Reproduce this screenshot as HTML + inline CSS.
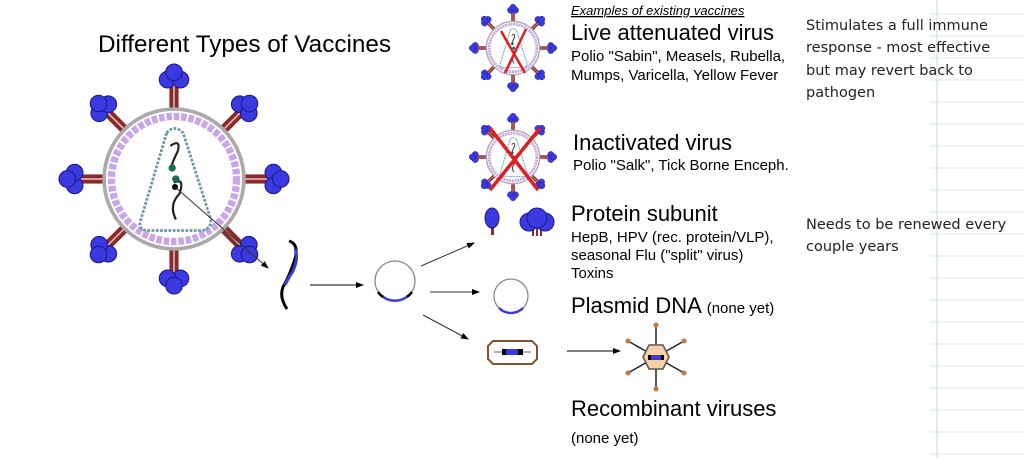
<!DOCTYPE html>
<html><head><style>
body{margin:0;background:#fff;}
svg text{font-family:"Liberation Sans",Arial,sans-serif;}
</style></head><body>
<svg width="1024" height="458" viewBox="0 0 1024 458" xmlns="http://www.w3.org/2000/svg">
<defs>
<marker id="ah" markerWidth="8" markerHeight="8" refX="7" refY="4" orient="auto" markerUnits="userSpaceOnUse"><path d="M0,1 L8,4 L0,7 z" fill="#000"/></marker>
<g id="spike">
<rect x="-2.5" y="-52" width="5" height="15" fill="#8b2a2a"/><line x1="0" y1="-52" x2="0" y2="-37" stroke="#e8c8c8" stroke-width="0.8"/>
<circle cx="-3.5" cy="-54" r="4.5" fill="#3a3ae0" stroke="#1a1a90" stroke-width="0.6"/><circle cx="3.5" cy="-54" r="4.5" fill="#3a3ae0" stroke="#1a1a90" stroke-width="0.6"/><circle cx="0" cy="-58" r="4.5" fill="#3a3ae0" stroke="#1a1a90" stroke-width="0.6"/>
</g>
<g id="virus">
<use href="#spike"/><use href="#spike" transform="rotate(45)"/><use href="#spike" transform="rotate(90)"/><use href="#spike" transform="rotate(135)"/><use href="#spike" transform="rotate(180)"/><use href="#spike" transform="rotate(225)"/><use href="#spike" transform="rotate(270)"/><use href="#spike" transform="rotate(315)"/>
<circle r="38" fill="#fff" stroke="#aaa" stroke-width="2"/>
<circle r="34" fill="none" stroke="#c9a6e8" stroke-width="4" stroke-dasharray="3 1"/>
<path d="M-4,-25 Q0,-30 5,-25 L20,22 Q20,28 14,28 L-14,28 Q-20,28 -18,22 Z" fill="none" stroke="#6a9aa8" stroke-width="1.5" stroke-dasharray="1.5 0.8"/>
<path d="M-2,-18 q6,-4 4,3 q-3,6 -4,10" fill="none" stroke="#222" stroke-width="1.2"/>
<path d="M0,2 q6,-3 3,6 q-6,6 -2,14" fill="none" stroke="#222" stroke-width="1.2"/>
<circle cx="-1" cy="-6" r="2" fill="#1a6a5a"/><circle cx="1" cy="0" r="2" fill="#1a6a5a"/>
</g>
</defs>

<g stroke="#d6e6f2" stroke-width="1">
<line x1="930" y1="14" x2="1024" y2="14"/><line x1="930" y1="36" x2="1024" y2="36"/><line x1="930" y1="58" x2="1024" y2="58"/><line x1="930" y1="80" x2="1024" y2="80"/><line x1="930" y1="102" x2="1024" y2="102"/><line x1="930" y1="124" x2="1024" y2="124"/><line x1="930" y1="146" x2="1024" y2="146"/><line x1="930" y1="168" x2="1024" y2="168"/><line x1="930" y1="190" x2="1024" y2="190"/><line x1="930" y1="212" x2="1024" y2="212"/><line x1="930" y1="234" x2="1024" y2="234"/><line x1="930" y1="256" x2="1024" y2="256"/><line x1="930" y1="278" x2="1024" y2="278"/><line x1="930" y1="300" x2="1024" y2="300"/><line x1="930" y1="322" x2="1024" y2="322"/><line x1="930" y1="344" x2="1024" y2="344"/><line x1="930" y1="366" x2="1024" y2="366"/><line x1="930" y1="388" x2="1024" y2="388"/><line x1="930" y1="410" x2="1024" y2="410"/><line x1="930" y1="432" x2="1024" y2="432"/><line x1="930" y1="454" x2="1024" y2="454"/>
</g>
<line x1="937" y1="0" x2="937" y2="458" stroke="#c9d9e6" stroke-width="1"/>

<text x="98" y="52" font-size="24.3">Different Types of Vaccines</text>

<g transform="translate(174,179) scale(1.84)"><use href="#virus"/></g>
<circle cx="175" cy="187" r="3" fill="#000"/>
<line x1="175" y1="187" x2="268" y2="268" stroke="#333" stroke-width="1" marker-end="url(#ah)"/>

<path d="M289,241 q10,3 6,18 q-6,18 -12,28 q-4,10 4,22" fill="none" stroke="#000" stroke-width="3"/>
<path d="M295,249 q4,8 -2,22 q-4,6 -8,14" fill="none" stroke="#3a3ae0" stroke-width="3"/>
<line x1="310" y1="285" x2="363" y2="285" stroke="#000" marker-end="url(#ah)"/>

<circle cx="395" cy="281" r="20" fill="#fff" stroke="#888" stroke-width="1.3"/>
<path d="M381,295 A20,20 0 0 0 409,295" fill="none" stroke="#3a3ae0" stroke-width="2.5"/>
<path d="M378,292 A20,20 0 0 0 383,297 M407,297 A20,20 0 0 0 412,292" fill="none" stroke="#000" stroke-width="2.5"/>

<line x1="421" y1="266" x2="474" y2="243" stroke="#333" marker-end="url(#ah)"/>
<line x1="430" y1="292" x2="479" y2="292" stroke="#333" marker-end="url(#ah)"/>
<line x1="423" y1="315" x2="468" y2="339" stroke="#333" marker-end="url(#ah)"/>

<circle cx="511" cy="296" r="17" fill="#fff" stroke="#888" stroke-width="1.3"/>
<path d="M499,308 A17,17 0 0 0 523,308" fill="none" stroke="#3a3ae0" stroke-width="2.5"/>

<path d="M493,341 L532,341 L537,346 L537,359 L532,364 L493,364 L488,359 L488,346 Z" fill="#fff" stroke="#7a5530" stroke-width="2"/>
<line x1="494" y1="352" x2="531" y2="352" stroke="#666"/>
<rect x="502" y="349" width="21" height="6" fill="#3a3ae0"/><rect x="502" y="349" width="4" height="6" fill="#000"/><rect x="518" y="349" width="5" height="6" fill="#000"/>
<line x1="567" y1="351" x2="620" y2="351" stroke="#000" marker-end="url(#ah)"/>

<g transform="translate(656,357)" stroke="#222" stroke-width="1.5">
<line x1="0" y1="0" x2="0" y2="-32"/><line x1="0" y1="0" x2="0" y2="32"/><line x1="0" y1="0" x2="-28" y2="-16"/><line x1="0" y1="0" x2="28" y2="-16"/><line x1="0" y1="0" x2="-28" y2="16"/><line x1="0" y1="0" x2="28" y2="16"/>
<g fill="#c07a40" stroke="none"><circle cx="0" cy="-32" r="2.5"/><circle cx="0" cy="32" r="2.5"/><circle cx="-28" cy="-16" r="2.5"/><circle cx="28" cy="-16" r="2.5"/><circle cx="-28" cy="16" r="2.5"/><circle cx="28" cy="16" r="2.5"/></g>
<polygon points="-7,-12 7,-12 13,0 7,12 -7,12 -13,0" fill="#f8d0a8" stroke="#555"/>
<rect x="-8" y="-2" width="16" height="5" fill="#3a3ae0" stroke="none"/><rect x="-8" y="-2" width="3" height="5" fill="#000" stroke="none"/><rect x="5" y="-2" width="3" height="5" fill="#000" stroke="none"/>
</g>

<g transform="translate(513,48) scale(0.7)"><use href="#virus"/></g>
<path d="M501,31 L525,73 M526,29 L505,73" stroke="#e02020" stroke-width="2.5"/>
<g transform="translate(513,157) scale(0.7)"><use href="#virus"/></g>
<path d="M490,128 L538,190 M540,128 L490,190" stroke="#e02020" stroke-width="3.5"/>

<rect x="491" y="225" width="3" height="10" fill="#8b2a2a"/>
<ellipse cx="492" cy="218" rx="7" ry="10" fill="#3a3ae0" stroke="#1a1a90"/>
<rect x="532" y="228" width="2" height="8" fill="#8b2a2a"/><rect x="536" y="228" width="2" height="8" fill="#8b2a2a"/><rect x="540" y="228" width="2" height="8" fill="#8b2a2a"/>
<circle cx="529" cy="222" r="9" fill="#3a3ae0" stroke="#1a1a90"/><circle cx="545" cy="222" r="9" fill="#3a3ae0" stroke="#1a1a90"/><circle cx="537" cy="218" r="10" fill="#3a3ae0" stroke="#1a1a90"/>

<text x="571" y="15" font-size="13" font-style="italic" text-decoration="underline">Examples of existing vaccines</text>
<text x="571" y="40" font-size="22">Live attenuated virus</text>
<text x="571" y="61" font-size="15">Polio "Sabin", Measels, Rubella,</text>
<text x="571" y="80" font-size="15">Mumps, Varicella, Yellow Fever</text>
<text x="573" y="150" font-size="22">Inactivated virus</text>
<text x="573" y="170" font-size="15">Polio "Salk", Tick Borne Enceph.</text>
<text x="571" y="221" font-size="22">Protein subunit</text>
<text x="571" y="242" font-size="15">HepB, HPV (rec. protein/VLP),</text>
<text x="571" y="260" font-size="15">seasonal Flu ("split" virus)</text>
<text x="571" y="278" font-size="15">Toxins</text>
<text x="571" y="313" font-size="22">Plasmid DNA <tspan font-size="15">(none yet)</tspan></text>
<text x="571" y="416" font-size="22">Recombinant viruses</text>
<text x="571" y="443" font-size="15">(none yet)</text>

<g font-size="14.5" fill="#222">
<text style="font-family:'DejaVu Sans',sans-serif" x="806" y="30">Stimulates a full immune</text>
<text style="font-family:'DejaVu Sans',sans-serif" x="806" y="52">response - most effective</text>
<text style="font-family:'DejaVu Sans',sans-serif" x="806" y="75">but may revert back to</text>
<text style="font-family:'DejaVu Sans',sans-serif" x="806" y="97">pathogen</text>
<text style="font-family:'DejaVu Sans',sans-serif" x="806" y="229">Needs to be renewed every</text>
<text style="font-family:'DejaVu Sans',sans-serif" x="806" y="251">couple years</text>
</g>
</svg>
</body></html>
